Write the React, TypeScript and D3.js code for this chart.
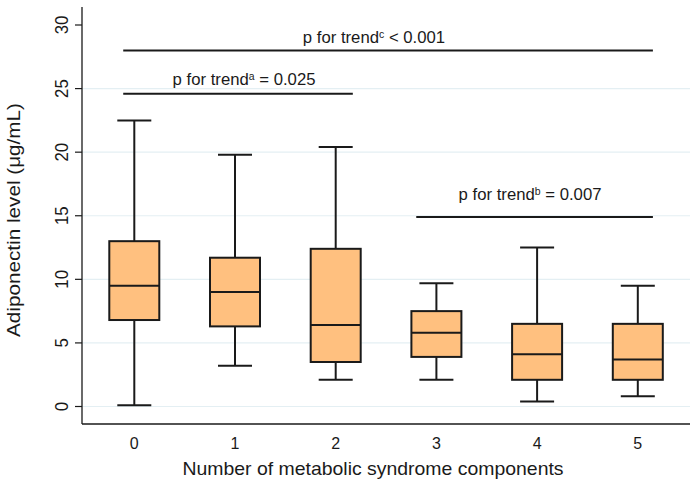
import * as d3 from "d3";
import React, { useEffect, useRef } from "react";

// Adiponectin by number of metabolic syndrome components (box summaries)
const categories = ["0", "1", "2", "3", "4", "5"];
const whiskerLow = [0.1, 3.2, 2.1, 2.1, 0.4, 0.8];
const q1 = [6.8, 6.3, 3.5, 3.9, 2.1, 2.1];
const median = [9.5, 9.0, 6.4, 5.8, 4.1, 3.7];
const q3 = [13.0, 11.7, 12.4, 7.5, 6.5, 6.5];
const whiskerHigh = [22.5, 19.8, 20.4, 9.7, 12.5, 9.5];

const yTicks = [0, 5, 10, 15, 20, 25, 30];

// trend brackets: [from, to] in category units, level, label position and text parts
const trendLabels = ["c", "a", "b"];
const trendFrom = [-0.11, -0.11, 2.8];
const trendTo = [5.15, 2.17, 5.15];
const trendLevel = [28.0, 24.6, 14.9];
const trendTextX = [2.38, 1.09, 3.93];
const trendTextY = [28.6, 25.3, 16.2];
const trendRest = ["< 0.001", "= 0.025", "= 0.007"];

const W = 697;
const H = 483;
const FONT = "'Liberation Sans', Arial, sans-serif";
const INK = "#1a1a1a";

const App: React.FC = () => {
    const svgRef = useRef<SVGSVGElement>(null);

    useEffect(() => {
        if (!svgRef.current) return;
        const svg = d3.select(svgRef.current);
        svg.selectAll("*").remove();

        const left = 82;
        const right = 690;
        const top = 7;
        const bottom = 424;

        const y = d3.scaleLinear().domain([0, 30]).range([406.5, 25]);
        const x = d3.scalePoint<string>().domain(categories).range([134.3, 637.8]);
        const xu = d3.scaleLinear().domain([0, 5]).range([134.3, 637.8]);
        const boxW = 50;
        const capW = 34;

        // gridlines
        svg.append("g")
            .selectAll("line")
            .data(yTicks.filter((t) => t < 30))
            .join("line")
            .attr("x1", left)
            .attr("x2", right)
            .attr("y1", (d) => y(d))
            .attr("y2", (d) => y(d))
            .attr("stroke", "#e4eff3")
            .attr("stroke-width", 1.2);

        // axes
        svg.append("line")
            .attr("x1", left).attr("x2", left)
            .attr("y1", top).attr("y2", bottom)
            .attr("stroke", INK).attr("stroke-width", 1.3);
        svg.append("line")
            .attr("x1", left).attr("x2", right)
            .attr("y1", bottom).attr("y2", bottom)
            .attr("stroke", INK).attr("stroke-width", 1.3);

        const yt = svg.append("g");
        yt.selectAll("line")
            .data(yTicks)
            .join("line")
            .attr("x1", left - 7)
            .attr("x2", left)
            .attr("y1", (d) => y(d))
            .attr("y2", (d) => y(d))
            .attr("stroke", INK)
            .attr("stroke-width", 1.2);
        yt.selectAll("text")
            .data(yTicks)
            .join("text")
            .attr("transform", (d) => `translate(68,${y(d)}) rotate(-90) scale(1.05,1.1)`)
            .attr("text-anchor", "middle")
            .attr("font-family", FONT)
            .attr("font-size", 16)
            .attr("fill", INK)
            .text((d) => d);

        svg.append("g")
            .selectAll("text")
            .data(categories)
            .join("text")
            .attr("x", (d) => x(d) as number)
            .attr("y", 449)
            .attr("text-anchor", "middle")
            .attr("font-family", FONT)
            .attr("font-size", 16)
            .attr("fill", INK)
            .text((d) => d);

        svg.append("text")
            .attr("transform", "translate(373,475) scale(1.08,1)")
            .attr("text-anchor", "middle")
            .attr("font-family", FONT)
            .attr("font-size", 18)
            .attr("fill", INK)
            .text("Number of metabolic syndrome components");

        svg.append("text")
            .attr("transform", "translate(20,220) rotate(-90) scale(1.09,1)")
            .attr("text-anchor", "middle")
            .attr("font-family", FONT)
            .attr("font-size", 19)
            .attr("fill", INK)
            .text("Adiponectin level (μg/mL)");

        // boxes
        const boxes = svg.append("g")
            .selectAll("g")
            .data(categories.map((c, i) => ({ c, i })))
            .join("g");

        boxes.append("line")
            .attr("x1", (d) => x(d.c) as number)
            .attr("x2", (d) => x(d.c) as number)
            .attr("y1", (d) => y(whiskerLow[d.i]))
            .attr("y2", (d) => y(whiskerHigh[d.i]))
            .attr("stroke", INK)
            .attr("stroke-width", 2);
        [whiskerLow, whiskerHigh].forEach((vals) => {
            boxes.append("line")
                .attr("x1", (d) => (x(d.c) as number) - capW / 2)
                .attr("x2", (d) => (x(d.c) as number) + capW / 2)
                .attr("y1", (d) => y(vals[d.i]))
                .attr("y2", (d) => y(vals[d.i]))
                .attr("stroke", INK)
                .attr("stroke-width", 2);
        });
        boxes.append("rect")
            .attr("x", (d) => (x(d.c) as number) - boxW / 2)
            .attr("width", boxW)
            .attr("y", (d) => y(q3[d.i]))
            .attr("height", (d) => y(q1[d.i]) - y(q3[d.i]))
            .attr("fill", "#ffc07f")
            .attr("stroke", INK)
            .attr("stroke-width", 2);
        boxes.append("line")
            .attr("x1", (d) => (x(d.c) as number) - boxW / 2)
            .attr("x2", (d) => (x(d.c) as number) + boxW / 2)
            .attr("y1", (d) => y(median[d.i]))
            .attr("y2", (d) => y(median[d.i]))
            .attr("stroke", INK)
            .attr("stroke-width", 2);

        // p for trend brackets
        trendLabels.forEach((sup, i) => {
            svg.append("line")
                .attr("x1", xu(trendFrom[i]))
                .attr("x2", xu(trendTo[i]))
                .attr("y1", y(trendLevel[i]))
                .attr("y2", y(trendLevel[i]))
                .attr("stroke", INK)
                .attr("stroke-width", 2);
            const t = svg.append("text")
                .attr("transform", `translate(${xu(trendTextX[i])},${y(trendTextY[i])}) scale(1.045,1)`)
                .attr("text-anchor", "middle")
                .attr("font-family", FONT)
                .attr("font-size", 16)
                .attr("fill", INK);
            t.append("tspan").text("p for trend");
            t.append("tspan").attr("font-size", 10).attr("dy", -5).text(sup);
            t.append("tspan").attr("dy", 5).text(" " + trendRest[i]);
        });
    }, []);

    return (
        <svg
            ref={svgRef}
            width={W}
            height={H}
            style={{ position: "absolute", left: 0, top: 0, background: "#fff" }}
        />
    );
};

export default App;
